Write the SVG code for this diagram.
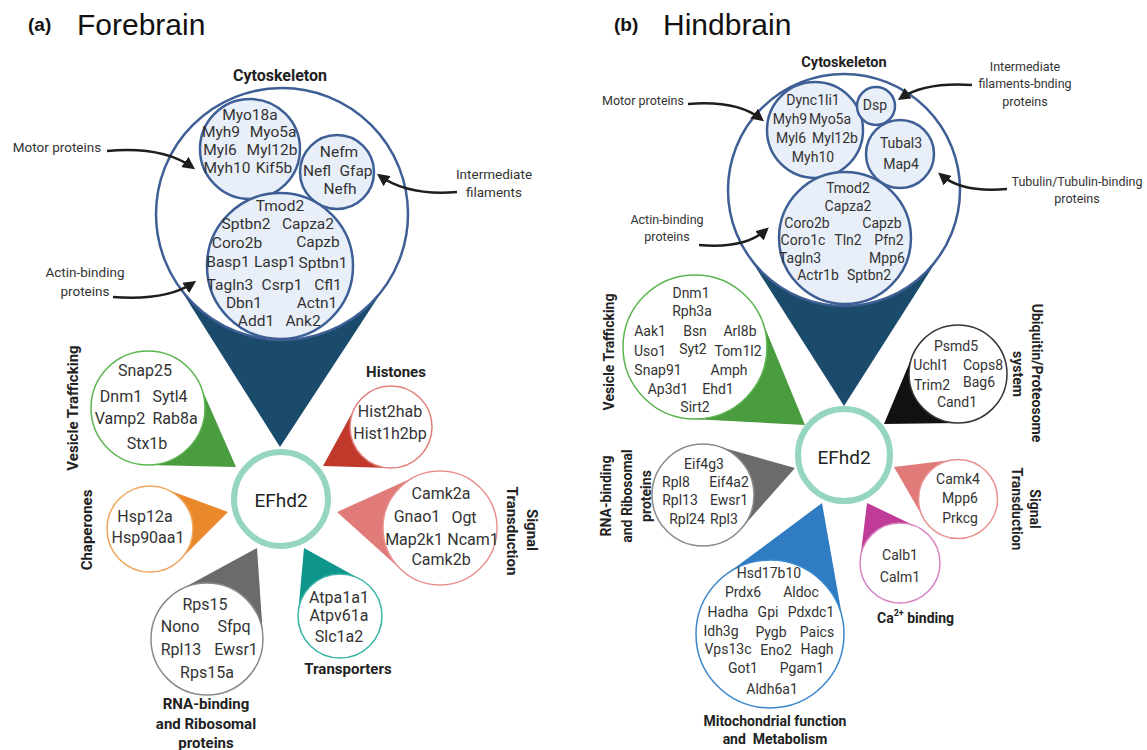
<svg xmlns="http://www.w3.org/2000/svg" width="1147" height="750" viewBox="0 0 1147 750">
<defs>
<marker id="ah" viewBox="0 0 10 10" refX="7" refY="5" markerWidth="5" markerHeight="5" orient="auto" markerUnits="strokeWidth">
<path d="M0,0 L10,5 L0,10 z" fill="#1e1e1e"/>
</marker>
<style>
text{font-family:Roboto,"Noto Sans",sans-serif;fill:#333;text-anchor:middle;dominant-baseline:central}
.ca{font-size:15.5px}
.ga{font-size:16px}
.gb{font-size:14px}
.la{font-size:15px;font-weight:bold;fill:#222}
.lb{font-size:14px;font-weight:bold;fill:#222}
.sa{font-size:13.5px}
.sb{font-size:12.5px}
.title{font-family:"Liberation Sans",Arial,sans-serif;font-size:30px;fill:#111;text-anchor:start;dominant-baseline:auto}
.tag{font-family:"Liberation Sans",Arial,sans-serif;font-size:19px;font-weight:bold;fill:#111;text-anchor:start;dominant-baseline:auto}
.cyto{fill:#e9eff8;stroke:#3e5f95;stroke-width:2.5}
.big{fill:#fff;stroke:#3e5f95;stroke-width:2.5}
.hub{fill:#fff;stroke:#95d5c1;stroke-width:6}
.hubt{font-size:19px;fill:#222}
.arr{fill:none;stroke:#1e1e1e;stroke-width:2.5;marker-end:url(#ah)}
.bub{fill:#fff;stroke-width:1.5}
</style>
</defs>

<!-- Titles -->
<text class="tag" x="28" y="31">(a)</text>
<text class="title" x="77" y="35">Forebrain</text>
<text class="tag" x="614" y="31">(b)</text>
<text class="title" x="663" y="35">Hindbrain</text>

<!-- ================= PANEL A ================= -->
<g id="a-cytoskeleton">
<polygon points="175.4,281.2 387.4,283 280,447" fill="#1b4b6b"/>
<circle class="big" cx="282" cy="214" r="126"/>
<text class="la" x="280" y="75" style="font-size:16px">Cytoskeleton</text>
<circle class="cyto" cx="250" cy="149" r="50"/>
<text class="ca" x="250" y="115">Myo18a</text>
<text class="ca" x="221" y="132">Myh9</text>
<text class="ca" x="273" y="132">Myo5a</text>
<text class="ca" x="220" y="150">Myl6</text>
<text class="ca" x="272" y="150">Myl12b</text>
<text class="ca" x="227" y="168">Myh10</text>
<text class="ca" x="274" y="168">Kif5b</text>
<circle class="cyto" cx="337" cy="172" r="37"/>
<text class="ca" x="339" y="152">Nefm</text>
<text class="ca" x="317" y="171">Nefl</text>
<text class="ca" x="356" y="171">Gfap</text>
<text class="ca" x="340" y="189">Nefh</text>
<circle class="cyto" cx="280" cy="266" r="73"/>
<text class="ca" x="280" y="206">Tmod2</text>
<text class="ca" x="246" y="224">Sptbn2</text>
<text class="ca" x="308" y="224">Capza2</text>
<text class="ca" x="237" y="243">Coro2b</text>
<text class="ca" x="318" y="242">Capzb</text>
<text class="ca" x="228" y="262">Basp1</text>
<text class="ca" x="275" y="262">Lasp1</text>
<text class="ca" x="323" y="263">Sptbn1</text>
<text class="ca" x="230" y="285">Tagln3</text>
<text class="ca" x="282" y="285">Csrp1</text>
<text class="ca" x="328" y="285">Cfl1</text>
<text class="ca" x="244" y="303">Dbn1</text>
<text class="ca" x="317" y="303">Actn1</text>
<text class="ca" x="256" y="321">Add1</text>
<text class="ca" x="303" y="321">Ank2</text>
<text class="sa" x="57" y="147">Motor proteins</text>
<text class="sa" x="494" y="174">Intermediate</text>
<text class="sa" x="494" y="192">filaments</text>
<text class="sa" x="85" y="272">Actin-binding</text>
<text class="sa" x="85" y="291">proteins</text>
</g>

<g id="a-vesicle">
<polygon points="146.7,465 200.2,385.2 236,467" fill="#4a9d3f"/>
<circle class="bub" cx="148" cy="408" r="57" stroke="#5cb450"/>
<text class="ga" x="145" y="370">Snap25</text>
<text class="ga" x="121" y="396">Dnm1</text>
<text class="ga" x="170" y="396">Sytl4</text>
<text class="ga" x="120" y="418">Vamp2</text>
<text class="ga" x="175" y="418">Rab8a</text>
<text class="ga" x="147" y="443">Stx1b</text>
<text class="la" transform="translate(73,408) rotate(-90)">Vesicle Trafficking</text>
</g>

<g id="a-histones">
<polygon points="355,407.4 389.8,468 323,466" fill="#c0392b"/>
<circle class="bub" cx="391" cy="427" r="41" stroke="#e2807b"/>
<text class="ga" x="390" y="411">Hist2hab</text>
<text class="ga" x="390" y="433">Hist1h2bp</text>
<text class="la" x="396" y="372">Histones</text>
</g>

<g id="a-signal">
<polygon points="416.5,476.1 401.9,570.4 337,512" fill="#e07b7a"/>
<circle class="bub" cx="440" cy="528" r="57" stroke="#e8928f"/>
<text class="ga" x="441" y="493">Camk2a</text>
<text class="ga" x="417" y="516">Gnao1</text>
<text class="ga" x="464" y="517">Ogt</text>
<text class="ga" x="414" y="539">Map2k1</text>
<text class="ga" x="473" y="539">Ncam1</text>
<text class="ga" x="441" y="559">Camk2b</text>
<text class="la" transform="translate(532,530) rotate(90)">Signal</text>
<text class="la" transform="translate(512,531) rotate(90)">Transduction</text>
</g>

<g id="a-chaperones">
<polygon points="180.4,559.5 164.9,488.7 228,512" fill="#e9892b"/>
<circle class="bub" cx="150" cy="529" r="43" stroke="#f0a65c"/>
<text class="ga" x="145" y="516">Hsp12a</text>
<text class="ga" x="148" y="537">Hsp90aa1</text>
<text class="la" transform="translate(87,530) rotate(-90)">Chaperones</text>
</g>

<g id="a-rna">
<polygon points="262.9,635.2 180.2,589.8 257,548" fill="#6b6b6b"/>
<circle class="bub" cx="207" cy="639" r="56" stroke="#8a8a8a"/>
<text class="ga" x="205" y="604">Rps15</text>
<text class="ga" x="180" y="626">Nono</text>
<text class="ga" x="234" y="626">Sfpq</text>
<text class="ga" x="181" y="649">Rpl13</text>
<text class="ga" x="236" y="649">Ewsr1</text>
<text class="ga" x="207" y="672">Rps15a</text>
<text class="la" x="206" y="704">RNA-binding</text>
<text class="la" x="206" y="724">and Ribosomal</text>
<text class="la" x="206" y="743">proteins</text>
</g>

<g id="a-transporters">
<polygon points="360.4,579.3 298.2,612.2 304,548" fill="#0f968a"/>
<circle class="bub" cx="340" cy="616" r="42" stroke="#3bb3aa"/>
<text class="ga" x="339" y="597">Atpa1a1</text>
<text class="ga" x="339" y="615">Atpv61a</text>
<text class="ga" x="339" y="636">Slc1a2</text>
<text class="la" x="348" y="669">Transporters</text>
</g>

<g id="a-efhd2">
<circle class="hub" cx="281" cy="499" r="47"/>
<text class="hubt" x="281" y="500">EFhd2</text>
</g>

<!-- ================= PANEL B ================= -->
<g id="b-cytoskeleton">
<polygon points="746.1,252.3 941.9,252.3 844,406" fill="#1b4b6b"/>
<circle class="big" cx="844" cy="190" r="116"/>
<text class="lb" x="844" y="62" style="font-size:14.5px">Cytoskeleton</text>
<circle class="cyto" cx="815" cy="130" r="48"/>
<text class="gb" x="813" y="100">Dync1li1</text>
<text class="gb" x="790" y="119">Myh9</text>
<text class="gb" x="830" y="119">Myo5a</text>
<text class="gb" x="791" y="138">Myl6</text>
<text class="gb" x="835" y="138">Myl12b</text>
<text class="gb" x="813" y="157">Myh10</text>
<circle class="cyto" cx="876" cy="106" r="19"/>
<text class="gb" x="875" y="105">Dsp</text>
<circle class="cyto" cx="900" cy="154" r="34"/>
<text class="gb" x="901" y="143">Tubal3</text>
<text class="gb" x="901" y="164">Map4</text>
<circle class="cyto" cx="845" cy="238" r="66"/>
<text class="gb" x="848" y="188">Tmod2</text>
<text class="gb" x="848" y="206">Capza2</text>
<text class="gb" x="807" y="223">Coro2b</text>
<text class="gb" x="882" y="223">Capzb</text>
<text class="gb" x="803" y="240">Coro1c</text>
<text class="gb" x="848" y="240">Tln2</text>
<text class="gb" x="889" y="240">Pfn2</text>
<text class="gb" x="800" y="258">Tagln3</text>
<text class="gb" x="887" y="258">Mpp6</text>
<text class="gb" x="818" y="275">Actr1b</text>
<text class="gb" x="869" y="275">Sptbn2</text>
<text class="sb" x="643" y="100">Motor proteins</text>
<text class="sb" x="1025" y="66">Intermediate</text>
<text class="sb" x="1025" y="83">filaments-bnding</text>
<text class="sb" x="1025" y="101">proteins</text>
<text class="sb" x="1077" y="181">Tubulin/Tubulin-binding</text>
<text class="sb" x="1077" y="198">proteins</text>
<text class="sb" x="667" y="219">Actin-binding</text>
<text class="sb" x="667" y="236">proteins</text>
</g>

<g id="b-vesicle">
<polygon points="691.1,418.9 761.6,319.6 805,425" fill="#4a9d3f"/>
<circle class="bub" cx="695" cy="347" r="72" stroke="#5cb450"/>
<text class="gb" x="691" y="293">Dnm1</text>
<text class="gb" x="692" y="311">Rph3a</text>
<text class="gb" x="650" y="331">Aak1</text>
<text class="gb" x="695" y="331">Bsn</text>
<text class="gb" x="740" y="331">Arl8b</text>
<text class="gb" x="650" y="351">Uso1</text>
<text class="gb" x="693" y="349">Syt2</text>
<text class="gb" x="738" y="351">Tom1l2</text>
<text class="gb" x="658" y="370">Snap91</text>
<text class="gb" x="729" y="370">Amph</text>
<text class="gb" x="668" y="389">Ap3d1</text>
<text class="gb" x="718" y="389">Ehd1</text>
<text class="gb" x="695" y="407">Sirt2</text>
<text class="lb" transform="translate(609,352) rotate(-90)">Vesicle Trafficking</text>
</g>

<g id="b-ubiquitin">
<polygon points="912.8,355.1 958.7,423 884,424" fill="#111"/>
<circle class="bub" cx="958" cy="374" r="49" stroke="#333"/>
<text class="gb" x="956" y="346">Psmd5</text>
<text class="gb" x="931" y="365">Uchl1</text>
<text class="gb" x="983" y="365">Cops8</text>
<text class="gb" x="932" y="385">Trim2</text>
<text class="gb" x="979" y="382">Bag6</text>
<text class="gb" x="957" y="402">Cand1</text>
<text class="lb" transform="translate(1037,373) rotate(90)">Ubiquitin/Proteosome</text>
<text class="lb" transform="translate(1018,374) rotate(90)">system</text>
</g>

<g id="b-signal">
<polygon points="953.2,459.8 923.8,518.7 894,467" fill="#e07b7a"/>
<circle class="bub" cx="958" cy="499" r="39.5" stroke="#e8928f"/>
<text class="gb" x="958" y="479">Camk4</text>
<text class="gb" x="960" y="498">Mpp6</text>
<text class="gb" x="960" y="518">Prkcg</text>
<text class="lb" transform="translate(1035,509) rotate(90)">Signal</text>
<text class="lb" transform="translate(1017,509) rotate(90)">Transduction</text>
</g>

<g id="b-calcium">
<polygon points="917.2,526.9 860.3,558.2 867,503" fill="#c03a97"/>
<circle class="bub" cx="900" cy="563" r="40" stroke="#d883c3"/>
<text class="gb" x="900" y="555">Calb1</text>
<text class="gb" x="900" y="577">Calm1</text>
<text class="lb" x="877" y="618" style="text-anchor:start">Ca<tspan dy="-5" style="font-size:9px">2+</tspan><tspan dy="5"> binding</tspan></text>
</g>

<g id="b-mitochondrial">
<polygon points="842.9,621.1 725.8,574.6 822,503" fill="#2f7cc2"/>
<circle class="bub" cx="770" cy="634" r="74" stroke="#3b87cc"/>
<text class="gb" x="769" y="573">Hsd17b10</text>
<text class="gb" x="743" y="592">Prdx6</text>
<text class="gb" x="801" y="592">Aldoc</text>
<text class="gb" x="728" y="612">Hadha</text>
<text class="gb" x="768" y="612">Gpi</text>
<text class="gb" x="811" y="612">Pdxdc1</text>
<text class="gb" x="721" y="631">Idh3g</text>
<text class="gb" x="771" y="632">Pygb</text>
<text class="gb" x="817" y="632">Paics</text>
<text class="gb" x="728" y="649">Vps13c</text>
<text class="gb" x="776" y="650">Eno2</text>
<text class="gb" x="817" y="649">Hagh</text>
<text class="gb" x="743" y="668">Got1</text>
<text class="gb" x="802" y="668">Pgam1</text>
<text class="gb" x="772" y="689">Aldh6a1</text>
<text class="lb" x="775" y="721">Mitochondrial function</text>
<text class="lb" x="775" y="739" style="white-space:pre">and  Metabolism</text>
</g>

<g id="b-rna">
<polygon points="741.2,528.8 716.9,445.9 795,468" fill="#6b6b6b"/>
<circle class="bub" cx="703" cy="495" r="51" stroke="#8a8a8a"/>
<text class="gb" x="704" y="464">Eif4g3</text>
<text class="gb" x="676" y="482">Rpl8</text>
<text class="gb" x="729" y="482">Eif4a2</text>
<text class="gb" x="680" y="500">Rpl13</text>
<text class="gb" x="729" y="500">Ewsr1</text>
<text class="gb" x="687" y="519">Rpl24</text>
<text class="gb" x="724" y="519">Rpl3</text>
<text class="lb" transform="translate(606,496) rotate(-90)">RNA-binding</text>
<text class="lb" transform="translate(627,496) rotate(-90)">and Ribosomal</text>
<text class="lb" transform="translate(646,496) rotate(-90)">proteins</text>
</g>

<g id="b-efhd2">
<circle class="hub" cx="844" cy="455" r="46"/>
<text class="hubt" x="844" y="457">EFhd2</text>
</g>

<!-- Connectors -->
<g id="connectors">
<path class="arr" d="M107,151 Q162,146 192,167"/>
<path class="arr" d="M457,192 Q408,196 380,176"/>
<path class="arr" d="M113,297 Q166,301 193,283"/>
<path class="arr" d="M688,104 Q737,100 761,119"/>
<path class="arr" d="M972,85 Q925,82 901,98"/>
<path class="arr" d="M1007,189 Q962,193 941,175"/>
<path class="arr" d="M699,245 Q745,249 766,230"/>
</g>
</svg>
